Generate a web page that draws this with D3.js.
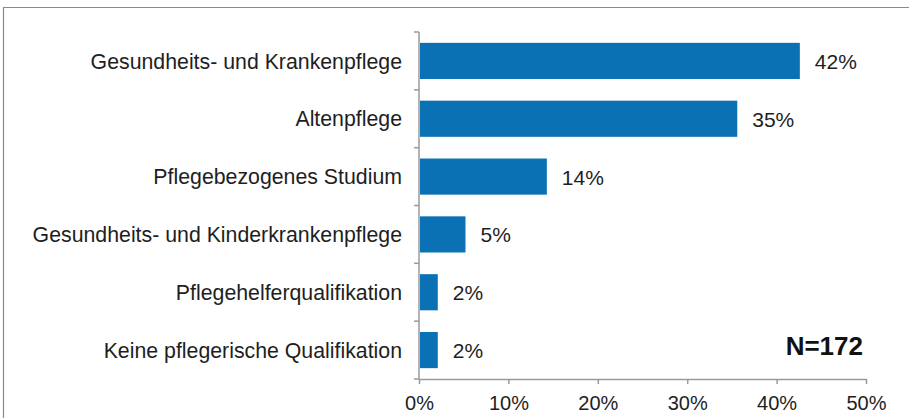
<!DOCTYPE html>
<html>
<head>
<meta charset="utf-8">
<script src="https://cdn.jsdelivr.net/npm/d3@7"></script>
<style>
  body { margin: 0; background: #fff; }
  text { font-family: "Liberation Sans", Arial, sans-serif; fill: #1e1e1e; }
</style>
</head>
<body>
<div id="chart"></div>
<script>
// categories and values (percent)
var categories = [
  "Gesundheits- und Krankenpflege",
  "Altenpflege",
  "Pflegebezogenes Studium",
  "Gesundheits- und Kinderkrankenpflege",
  "Pflegehelferqualifikation",
  "Keine pflegerische Qualifikation"
];
var values = [42.6, 35.6, 14.3, 5.2, 2.1, 2.1];
var valueLabels = ["42%", "35%", "14%", "5%", "2%", "2%"];
var xTicks = [0, 10, 20, 30, 40, 50];
var sampleNote = "N=172";

var W = 909, H = 418;
var margin = {top: 32, right: 43, bottom: 39, left: 420};

var svg = d3.select("#chart").append("svg")
    .attr("width", W)
    .attr("height", H);

// outer frame (only top and left visible)
svg.append("path")
    .attr("d", "M3.5," + H + "V7.5H" + W)
    .attr("fill", "none")
    .attr("stroke", "#8a8a8a")
    .attr("stroke-width", 1.2);

var x = d3.scaleLinear().domain([0, 50]).range([margin.left - 1, W - margin.right]);
var y = d3.scaleBand().domain(categories)
    .range([margin.top, H - margin.bottom])
    .paddingInner(0.375).paddingOuter(0.1875);

// bars
svg.selectAll("rect.bar")
    .data(values)
  .enter().append("rect")
    .attr("class", "bar")
    .attr("x", x(0) + 1)
    .attr("y", function(d, i) { return y(categories[i]); })
    .attr("width", function(d) { return x(d) - x(0) - 1; })
    .attr("height", y.bandwidth())
    .attr("fill", "#0a72b4");

// value labels
svg.selectAll("text.val")
    .data(values)
  .enter().append("text")
    .attr("class", "val")
    .attr("x", function(d) { return x(d) + 15; })
    .attr("y", function(d, i) { return y(categories[i]) + y.bandwidth() / 2 + 8; })
    .style("font-size", "21px")
    .text(function(d, i) { return valueLabels[i]; });

// y axis
var yAxis = svg.append("g")
    .attr("transform", "translate(" + x(0) + ",0)")
    .call(d3.axisLeft(y).tickSize(0).tickPadding(17));
yAxis.select(".domain").remove();
yAxis.selectAll("text").style("font-size", "21.3px").attr("dy", "0.36em");

svg.append("line")
    .attr("x1", x(0)).attr("x2", x(0))
    .attr("y1", margin.top).attr("y2", H - margin.bottom)
    .attr("stroke", "#9a9a9a").attr("stroke-width", 1.5);
// band separators on the y axis
var bounds = categories.map(function(c) { return y(c) - y.step() * y.paddingInner() / 2; });
bounds.push(H - margin.bottom);
svg.selectAll("line.ytick")
    .data(bounds)
  .enter().append("line")
    .attr("class", "ytick")
    .attr("x1", x(0) - 5).attr("x2", x(0))
    .attr("y1", function(d) { return d; }).attr("y2", function(d) { return d; })
    .attr("stroke", "#9a9a9a").attr("stroke-width", 1.5);

// x axis
var xAxis = svg.append("g")
    .attr("transform", "translate(0," + (H - margin.bottom) + ")")
    .call(d3.axisBottom(x).tickValues(xTicks).tickSize(5).tickSizeOuter(0)
      .tickPadding(12).tickFormat(function(d) { return d + "%"; }));
xAxis.select(".domain").attr("stroke", "#9a9a9a").attr("stroke-width", 1.5);
xAxis.selectAll(".tick line").attr("stroke", "#9a9a9a").attr("stroke-width", 1.5);
xAxis.selectAll("text").style("font-size", "20px").attr("fill", "#1e1e1e");

// sample size note
svg.append("text")
    .attr("x", 863)
    .attr("y", 355)
    .attr("text-anchor", "end")
    .style("font-size", "26px")
    .style("font-weight", "bold")
    .style("fill", "#111")
    .text(sampleNote);
</script>
</body>
</html>
